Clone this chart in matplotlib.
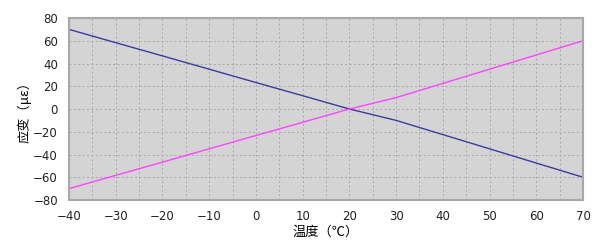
import matplotlib
matplotlib.use('Agg')
import matplotlib.pyplot as plt
from matplotlib.ticker import MultipleLocator

plt.rcParams['font.family'] = ['Noto Sans CJK SC', 'DejaVu Sans']

# temperature (C) and strain (micro-strain)
temp = [-40, -30, -20, -10, 0, 10, 20, 30, 40, 50, 60, 70]
strain_blue = [70, 58.3, 46.7, 35, 23.3, 11.7, 0, -10, -22.5, -35, -47.5, -60]
strain_pink = [-70, -58.3, -46.7, -35, -23.3, -11.7, 0, 10, 22.5, 35, 47.5, 60]

fig = plt.figure(figsize=(6, 2.48), dpi=100)
ax = fig.add_axes([0.115, 0.1935, 0.8567, 0.7339])
ax.set_facecolor('#d4d4d4')

ax.plot(temp, strain_blue, color='#3c3ca0', lw=1.0)
ax.plot(temp, strain_pink, color='#ff44ff', lw=1.0)

ax.set_xlim(-40, 70)
ax.set_ylim(-80, 80)
ax.xaxis.set_major_locator(MultipleLocator(10))
ax.xaxis.set_minor_locator(MultipleLocator(5))
ax.yaxis.set_major_locator(MultipleLocator(20))

ax.grid(True, which='major', color='#a8a8a8', linestyle=(0, (2, 2.5)), lw=0.7)
ax.grid(True, which='minor', axis='x', color='#a8a8a8', linestyle=(0, (2, 2.5)), lw=0.7)
ax.tick_params(which='both', length=0, labelsize=8.5, colors='#222222')
ax.tick_params(axis='x', pad=7)
ax.tick_params(axis='y', pad=8)
for lbl in ax.get_xticklabels() + ax.get_yticklabels():
    lbl.set_family('DejaVu Sans')

for s in ax.spines.values():
    s.set_color('#a8a8a8')
    s.set_linewidth(1.5)

ax.set_xlabel('温度（℃）', fontsize=9.5, labelpad=2)
ax.set_ylabel('应变（με）', fontsize=9.5, labelpad=1)

fig.savefig('out.png', dpi=100)
